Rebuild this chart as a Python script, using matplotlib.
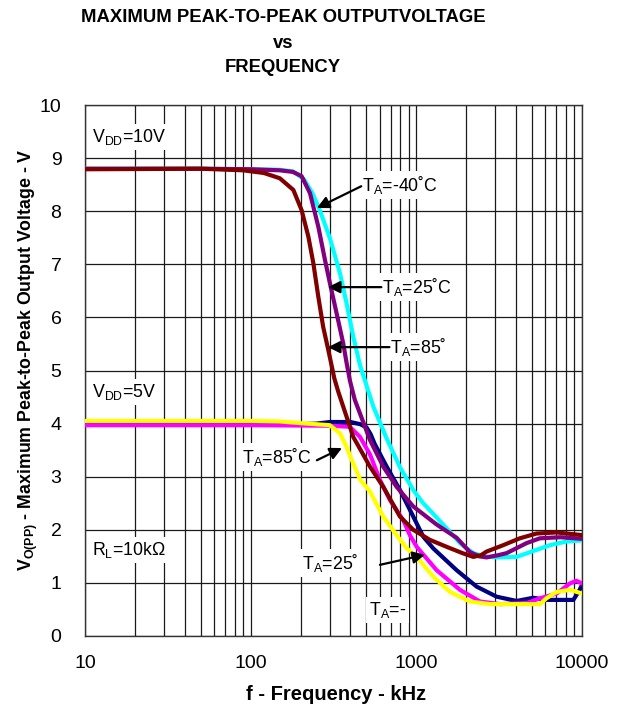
'''
Maximum peak-to-peak output voltage vs frequency
'''
import matplotlib
matplotlib.use('Agg')
from matplotlib import pyplot as plt
from matplotlib.ticker import FixedLocator, NullFormatter

plt.rcParams['font.family'] = ['Liberation Sans', 'DejaVu Sans']
plt.rcParams['mathtext.fontset'] = 'custom'
plt.rcParams['mathtext.rm'] = 'Liberation Sans'
plt.rcParams['mathtext.bf'] = 'Liberation Sans:bold'

# VDD = 10V curves (frequency in kHz, output in V)
f_10v_m40 = [10, 50, 100, 150, 180, 210, 235, 259, 301, 346, 379, 416, 457, 550, 662,
             796, 958, 1100, 1265, 1531, 1832, 2206, 2600, 3055, 4030, 5080, 6400, 8070, 10000]
v_10v_m40 = [8.80, 8.80, 8.79, 8.78, 8.75, 8.60, 8.35, 8.05, 7.49, 6.83, 6.27, 5.64, 5.10, 4.32, 3.72,
             3.18, 2.75, 2.50, 2.30, 2.02, 1.75, 1.56, 1.50, 1.48, 1.49, 1.60, 1.71, 1.78, 1.80]

f_10v_25 = [10, 50, 100, 150, 180, 203, 228, 256, 281, 301, 330, 362, 379, 398, 425, 457, 525,
            631, 760, 958, 1325, 1750, 2106, 2400, 2655, 3100, 3506, 4634, 5570, 7400, 10000]
v_10v_25 = [8.80, 8.80, 8.79, 8.77, 8.74, 8.66, 8.34, 7.71, 7.08, 6.64, 6.08, 5.51, 5.15, 4.80, 4.45, 4.19, 3.69,
            3.19, 2.81, 2.44, 2.10, 1.85, 1.58, 1.50, 1.48, 1.52, 1.56, 1.75, 1.84, 1.86, 1.83]

f_10v_85 = [10, 50, 90, 120, 150, 181, 203, 223, 239, 256, 274, 294, 320, 338, 362, 416,
            525, 631, 796, 958, 1208, 1523, 1900, 2206, 2450, 2655, 3343, 4215, 5320, 7030, 10000]
v_10v_85 = [8.79, 8.80, 8.77, 8.72, 8.62, 8.40, 8.02, 7.52, 7.02, 6.39, 5.82, 5.39, 4.85, 4.60, 4.32, 3.75,
            3.19, 2.81, 2.25, 2.00, 1.81, 1.68, 1.56, 1.49, 1.52, 1.59, 1.71, 1.84, 1.93, 1.95, 1.90]

# VDD = 5V curves
f_5v_m40 = [10, 100, 200, 250, 300, 400, 457, 500, 530, 560, 662, 796, 958, 1101, 1265,
            1750, 2312, 3055, 4030, 5080, 6100, 8870, 9600, 10000]
v_5v_m40 = [3.99, 3.99, 3.99, 4.00, 4.03, 4.03, 3.99, 3.93, 3.80, 3.62, 3.19, 2.75, 2.25, 1.87, 1.65,
            1.24, 0.93, 0.74, 0.66, 0.72, 0.68, 0.68, 0.85, 0.96]

f_5v_25 = [10, 100, 300, 397, 457, 525, 603, 693, 834, 914, 1005, 1325, 1832, 2422, 3200,
           4634, 5570, 7030, 8450, 9240, 10000]
v_5v_25 = [3.97, 3.97, 3.96, 3.94, 3.75, 3.42, 2.94, 2.56, 2.18, 1.90, 1.68, 1.24, 0.87, 0.65, 0.60,
           0.62, 0.71, 0.80, 0.99, 1.04, 0.99]

f_5v_85 = [10, 100, 150, 198, 300, 346, 379, 416, 457, 525, 631, 760, 870, 1005, 1265, 1595,
           2106, 2780, 4030, 5570, 6100, 7030, 8450, 10000]
v_5v_85 = [4.05, 4.05, 4.04, 4.01, 3.97, 3.82, 3.56, 3.25, 2.95, 2.72, 2.25, 1.90, 1.66, 1.49, 1.12, 0.83,
           0.65, 0.60, 0.60, 0.60, 0.71, 0.83, 0.87, 0.80]

x_ticks = [10, 100, 1000, 10000]
x_tick_labels = ['10', '100', '1000', '10000']
y_ticks = list(range(0, 11))

fig = plt.figure(figsize=(6.2, 7.12), dpi=100)
ax = fig.add_axes([85 / 620, 1 - 636 / 712, 497 / 620, 531 / 712])

# Curves: 5V set first, 10V set on top
LW = 3.0
line_kw = dict(lw=LW, solid_joinstyle='round', solid_capstyle='round')
ax.plot(f_5v_m40, v_5v_m40, color='#000080', zorder=3, **line_kw)
ax.plot(f_5v_25, v_5v_25, color='#FF00FF', zorder=3, **line_kw)
ax.plot(f_5v_85, v_5v_85, color='#FFFF00', zorder=3, **line_kw)
ax.plot(f_10v_m40, v_10v_m40, color='#00FFFF', zorder=4, **line_kw)
ax.plot(f_10v_25, v_10v_25, color='#800080', zorder=4, **line_kw)
ax.plot(f_10v_85, v_10v_85, color='#800000', zorder=4, **line_kw)

# Axes and grid
ax.set_xscale('log')
ax.set_xlim(10, 10000)
ax.set_ylim(0, 10)
ax.xaxis.set_major_locator(FixedLocator(x_ticks))
ax.xaxis.set_minor_locator(FixedLocator([m * d for d in (10, 100, 1000) for m in range(2, 10)]))
ax.xaxis.set_minor_formatter(NullFormatter())
ax.set_xticklabels(x_tick_labels)
ax.set_yticks(y_ticks)
ax.tick_params(which='both', length=0)
ax.tick_params(axis='x', pad=14)
ax.tick_params(axis='y', pad=17)
for lab in ax.get_xticklabels() + ax.get_yticklabels():
    lab.set_fontsize(14)
ax.grid(which='both', color='#1a1a1a', lw=0.9, zorder=1)
ax.set_axisbelow(True)
for spine in ax.spines.values():
    spine.set_color('#333333')
    spine.set_linewidth(1.0)

# Titles and axis labels
fig.text(283 / 620, 1 - 17 / 712, 'MAXIMUM PEAK-TO-PEAK OUTPUTVOLTAGE', ha='center', va='center',
         fontsize=13.3, fontweight='bold')
fig.text(283 / 620, 1 - 43 / 712, 'vs', ha='center', va='center', fontsize=13.3, fontweight='bold')
fig.text(283 / 620, 1 - 67 / 712, 'FREQUENCY', ha='center', va='center', fontsize=13.3, fontweight='bold')
fig.text(336 / 620, 1 - 695 / 712, 'f - Frequency - kHz', ha='center', va='center',
         fontsize=14.5, fontweight='bold')
fig.text(28 / 620, 1 - 360 / 712, r'V$_\mathregular{O(PP)}$ - Maximum Peak-to-Peak Output Voltage - V',
         ha='center', va='center', rotation=90, fontsize=12.8, fontweight='bold')

# Labels inside the plot
box = dict(facecolor='white', edgecolor='none', pad=2)
TS = 12.8
ax.text(11, 9.40, r'V$_\mathregular{DD}$=10V', fontsize=TS, va='center', bbox=box, zorder=6)
ax.text(11, 4.60, r'V$_\mathregular{DD}$=5V', fontsize=TS, va='center', bbox=box, zorder=6)
ax.text(11, 1.62, r'R$_\mathregular{L}$=10k$\mathregular{\Omega}$', fontsize=TS, va='center', bbox=box, zorder=6)

ax.text(470, 8.49, r'T$_\mathregular{A}$=-40˚C', fontsize=TS, va='center', bbox=box, zorder=6)
ax.text(620, 6.57, r'T$_\mathregular{A}$=25˚C', fontsize=TS, va='center', bbox=box, zorder=6)
ax.text(693, 5.44, r'T$_\mathregular{A}$=85˚', fontsize=TS, va='center', bbox=box, zorder=6)
ax.text(88.6, 3.37, r'T$_\mathregular{A}$=85˚C', fontsize=TS, va='center', bbox=box, zorder=6)
ax.text(204, 1.37, r'T$_\mathregular{A}$=25˚', fontsize=TS, va='center', bbox=box, zorder=6)
ax.text(518, 0.49, r'T$_\mathregular{A}$=-', fontsize=TS, va='center', bbox=box, zorder=6)

arrow = dict(arrowstyle='-|>', color='black', lw=1.6, mutation_scale=18, shrinkA=0, shrinkB=0)
ax.annotate('', xy=(251, 8.06), xytext=(465, 8.47), arrowprops=arrow, zorder=7)
ax.annotate('', xy=(293, 6.57), xytext=(615, 6.57), arrowprops=arrow, zorder=7)
ax.annotate('', xy=(293, 5.44), xytext=(688, 5.44), arrowprops=arrow, zorder=7)
ax.annotate('', xy=(356, 3.54), xytext=(251, 3.31), arrowprops=arrow, zorder=7)
ax.annotate('', xy=(1127, 1.53), xytext=(603, 1.34), arrowprops=arrow, zorder=7)

fig.savefig('out.png', dpi=100)
